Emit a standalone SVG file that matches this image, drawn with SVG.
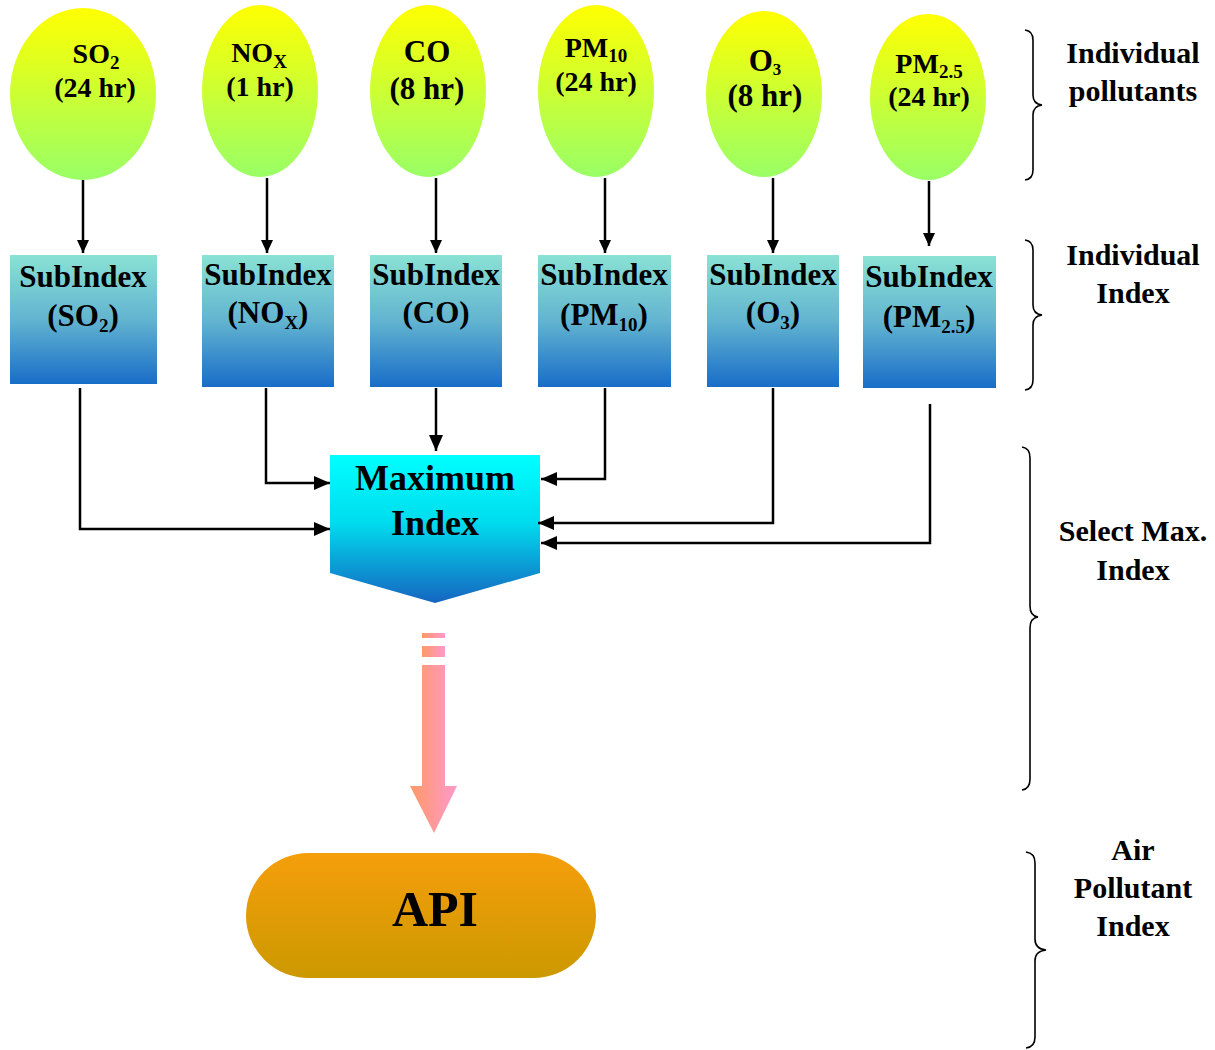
<svg xmlns="http://www.w3.org/2000/svg" width="1215" height="1050" viewBox="0 0 1215 1050">
<defs>
  <linearGradient id="gEll" x1="0" y1="0" x2="0" y2="1">
    <stop offset="0" stop-color="#FFFF00"/>
    <stop offset="1" stop-color="#99FF66"/>
  </linearGradient>
  <linearGradient id="gBox" x1="0" y1="0" x2="0" y2="1">
    <stop offset="0" stop-color="#8AE2D4"/>
    <stop offset="0.5" stop-color="#62B4D0"/>
    <stop offset="1" stop-color="#186DC8"/>
  </linearGradient>
  <linearGradient id="gMax" x1="0" y1="0" x2="0" y2="1">
    <stop offset="0" stop-color="#00FFFF"/>
    <stop offset="0.45" stop-color="#00DDEE"/>
    <stop offset="1" stop-color="#1565C0"/>
  </linearGradient>
  <linearGradient id="gPink" x1="0" y1="0" x2="1" y2="0">
    <stop offset="0" stop-color="#FF9966"/>
    <stop offset="1" stop-color="#FF99CC"/>
  </linearGradient>
  <linearGradient id="gApi" x1="0" y1="0" x2="0" y2="1">
    <stop offset="0" stop-color="#F59E0B"/>
    <stop offset="1" stop-color="#CC9900"/>
  </linearGradient>
  <marker id="ah" markerUnits="userSpaceOnUse" markerWidth="16" markerHeight="14" refX="16" refY="7" orient="auto">
    <path d="M0 0 L16 7 L0 14 Z" fill="#000"/>
  </marker>
  <marker id="ahs" markerUnits="userSpaceOnUse" markerWidth="13" markerHeight="12" refX="13" refY="6" orient="auto">
    <path d="M0 0 L13 6 L0 12 Z" fill="#000"/>
  </marker>
</defs>
<style>
  text { font-family: "Liberation Serif", "Times New Roman", serif; font-weight: bold; fill: #000; text-anchor: middle; }
  .ell { fill: url(#gEll); }
  .box { fill: url(#gBox); }
  .t28 { font-size: 28px; }
  .t31 { font-size: 31px; }
  .lab { font-size: 30px; }
  .sub { font-size: 19px; }
  .subs { font-size: 17px; }
  .conn { fill: none; stroke: #000; stroke-width: 2.5; }
  .brace { fill: none; stroke: #000; stroke-width: 1.6; }
</style>

<g id="ell-so2">
  <ellipse class="ell" cx="83" cy="94" rx="73" ry="86"/>
  <text class="t28" x="96" y="63">SO<tspan class="sub" dy="6">2</tspan></text>
  <text class="t28" x="95" y="97">(24 hr)</text>
</g>
<g id="ell-nox">
  <ellipse class="ell" cx="260" cy="91" rx="58" ry="86"/>
  <text class="t28" x="259" y="62">NO<tspan class="sub" dy="6">X</tspan></text>
  <text class="t28" x="260" y="96">(1 hr)</text>
</g>
<g id="ell-co">
  <ellipse class="ell" cx="428" cy="91" rx="58" ry="86"/>
  <text class="t31" x="427" y="62">CO</text>
  <text class="t31" x="427" y="99">(8 hr)</text>
</g>
<g id="ell-pm10">
  <ellipse class="ell" cx="596" cy="91" rx="58" ry="86"/>
  <text class="t28" x="596" y="57">PM<tspan class="sub" dy="5">10</tspan></text>
  <text class="t28" x="596" y="91">(24 hr)</text>
</g>
<g id="ell-o3">
  <ellipse class="ell" cx="764" cy="94" rx="58" ry="83"/>
  <text class="t31" x="765" y="71">O<tspan class="subs" dy="4">3</tspan></text>
  <text class="t31" x="765" y="106">(8 hr)</text>
</g>
<g id="ell-pm25">
  <ellipse class="ell" cx="928" cy="97" rx="58" ry="83"/>
  <text class="t28" x="929" y="73">PM<tspan class="sub" dy="5">2.5</tspan></text>
  <text class="t28" x="929" y="106">(24 hr)</text>
</g>

<g id="box-so2">
  <rect class="box" x="10" y="255" width="147" height="129"/>
  <text class="t31" x="83" y="287">SubIndex</text>
  <text class="t31" x="83" y="326">(SO<tspan class="sub" dy="6">2</tspan><tspan dy="-6">)</tspan></text>
</g>
<g id="box-nox">
  <rect class="box" x="202" y="255" width="132" height="132"/>
  <text class="t31" x="268" y="285">SubIndex</text>
  <text class="t31" x="268" y="323">(NO<tspan class="sub" dy="6">X</tspan><tspan dy="-6">)</tspan></text>
</g>
<g id="box-co">
  <rect class="box" x="370" y="255" width="132" height="132"/>
  <text class="t31" x="436" y="285">SubIndex</text>
  <text class="t31" x="436" y="323">(CO)</text>
</g>
<g id="box-pm10">
  <rect class="box" x="538" y="255" width="133" height="132"/>
  <text class="t31" x="604" y="285">SubIndex</text>
  <text class="t31" x="604" y="325">(PM<tspan class="sub" dy="6">10</tspan><tspan dy="-6">)</tspan></text>
</g>
<g id="box-o3">
  <rect class="box" x="707" y="255" width="132" height="132"/>
  <text class="t31" x="773" y="285">SubIndex</text>
  <text class="t31" x="773" y="323">(O<tspan class="sub" dy="6">3</tspan><tspan dy="-6">)</tspan></text>
</g>
<g id="box-pm25">
  <rect class="box" x="863" y="256" width="133" height="132"/>
  <text class="t31" x="929" y="287">SubIndex</text>
  <text class="t31" x="929" y="327">(PM<tspan class="sub" dy="6">2.5</tspan><tspan dy="-6">)</tspan></text>
</g>

<g id="max-index">
  <polygon points="330,455 540,455 540,573 435,603 330,573" fill="url(#gMax)"/>
  <text x="435" y="490" style="font-size:36px">Maximum</text>
  <text x="435" y="535" style="font-size:36px">Index</text>
</g>

<g id="pink-arrow" fill="url(#gPink)">
  <rect x="422" y="633" width="23" height="5"/>
  <rect x="422" y="646" width="23" height="11"/>
  <path d="M422 665 H445 V786 H457 L434 833 L410 786 H422 Z"/>
</g>

<g id="api">
  <rect x="246" y="853" width="350" height="125" rx="62.5" fill="url(#gApi)"/>
  <text x="435" y="926" style="font-size:50px">API</text>
</g>

<g id="connectors">
  <path class="conn" d="M83 180 V253" marker-end="url(#ahs)"/>
  <path class="conn" d="M267 178 V253" marker-end="url(#ahs)"/>
  <path class="conn" d="M436 178 V253" marker-end="url(#ahs)"/>
  <path class="conn" d="M605 178 V253" marker-end="url(#ahs)"/>
  <path class="conn" d="M773 178 V253" marker-end="url(#ahs)"/>
  <path class="conn" d="M929 181 V246" marker-end="url(#ahs)"/>
  <path class="conn" d="M80 388 V529 H330" marker-end="url(#ah)"/>
  <path class="conn" d="M266 388 V483 H330" marker-end="url(#ah)"/>
  <path class="conn" d="M436 388 V451" marker-end="url(#ah)"/>
  <path class="conn" d="M605 388 V479 H541" marker-end="url(#ah)"/>
  <path class="conn" d="M773 388 V523 H538" marker-end="url(#ah)"/>
  <path class="conn" d="M930 404 V543 H541" marker-end="url(#ah)"/>
</g>

<g id="brace-pollutants">
  <path class="brace" d="M1025 30 Q1033 31 1033 40 V95 Q1033 104 1042 105 Q1033 106 1033 115 V170 Q1033 179 1025 180"/>
  <text class="lab" x="1133" y="63">Individual</text>
  <text class="lab" x="1133" y="101">pollutants</text>
</g>
<g id="brace-index">
  <path class="brace" d="M1025 240 Q1033 241 1033 250 V305 Q1033 314 1042 315 Q1033 316 1033 325 V380 Q1033 389 1025 390"/>
  <text class="lab" x="1133" y="265">Individual</text>
  <text class="lab" x="1133" y="303">Index</text>
</g>
<g id="brace-select">
  <path class="brace" d="M1022 447 Q1030 448 1030 458 V606 Q1030 616 1038 617 Q1030 618 1030 628 V779 Q1030 789 1022 790"/>
  <text class="lab" x="1133" y="541">Select Max.</text>
  <text class="lab" x="1133" y="580">Index</text>
</g>
<g id="brace-api">
  <path class="brace" d="M1026 852 Q1035 853 1035 863 V939 Q1035 949 1046 950 Q1035 951 1035 961 V1037 Q1035 1047 1026 1048"/>
  <text class="lab" x="1133" y="860">Air</text>
  <text class="lab" x="1133" y="898">Pollutant</text>
  <text class="lab" x="1133" y="936">Index</text>
</g>
</svg>
